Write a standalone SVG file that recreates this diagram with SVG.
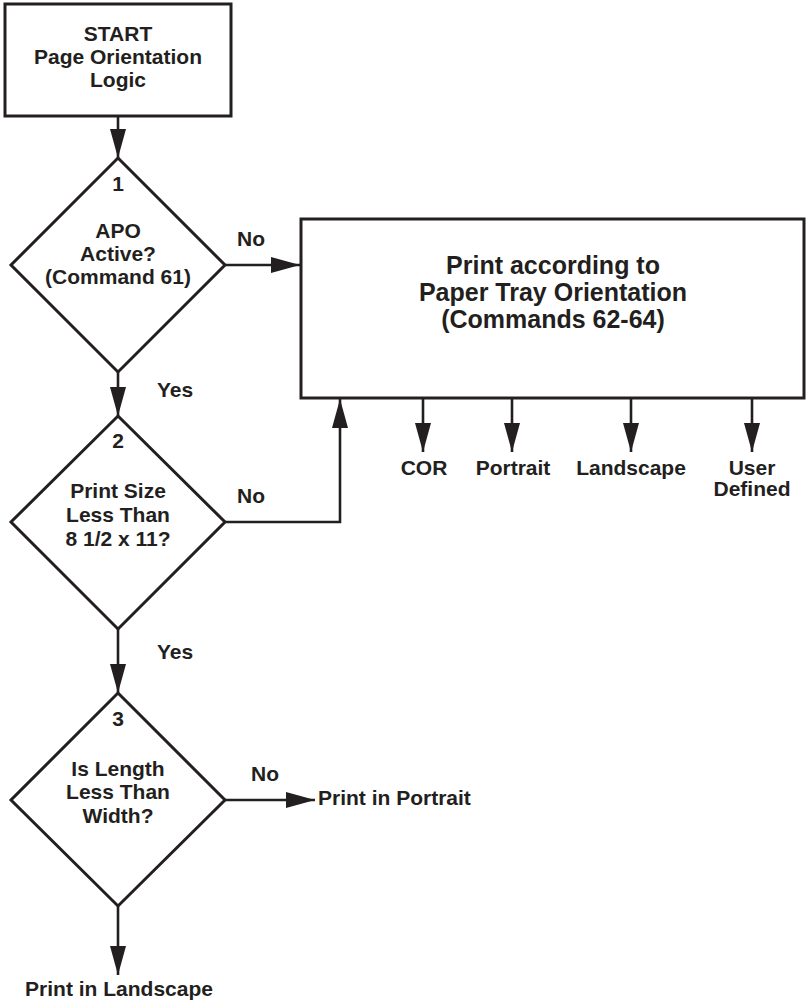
<svg xmlns="http://www.w3.org/2000/svg" width="807" height="1003" viewBox="0 0 807 1003">
<style>
.shape{fill:#fff;stroke:#231f20;stroke-width:3}
.conn{fill:none;stroke:#231f20;stroke-width:2.6}
text{font-family:"Liberation Sans",Arial,Helvetica,sans-serif;font-weight:bold;fill:#231f20;font-size:21px}
.c{text-anchor:middle}
.big{font-size:25px}
</style>
<defs>
<marker id="arr" markerUnits="userSpaceOnUse" markerWidth="30" markerHeight="16" refX="29" refY="8" orient="auto">
<path d="M0,0 L29,8 L0,16 z" fill="#231f20"/>
</marker>
</defs>
<rect width="807" height="1003" fill="#fff"/>
<g id="connectors">
<line class="conn" x1="118" y1="117" x2="118" y2="158" marker-end="url(#arr)"/>
<line class="conn" x1="225" y1="265" x2="300" y2="265" marker-end="url(#arr)"/>
<line class="conn" x1="118" y1="372" x2="118" y2="416" marker-end="url(#arr)"/>
<polyline class="conn" points="225,522 340,522 340,399" marker-end="url(#arr)"/>
<line class="conn" x1="118" y1="629" x2="118" y2="693" marker-end="url(#arr)"/>
<line class="conn" x1="225" y1="800" x2="315" y2="800" marker-end="url(#arr)"/>
<line class="conn" x1="118" y1="906" x2="118" y2="975" marker-end="url(#arr)"/>
<line class="conn" x1="423" y1="398" x2="423" y2="452" marker-end="url(#arr)"/>
<line class="conn" x1="512" y1="398" x2="512" y2="452" marker-end="url(#arr)"/>
<line class="conn" x1="631" y1="398" x2="631" y2="452" marker-end="url(#arr)"/>
<line class="conn" x1="752" y1="398" x2="752" y2="452" marker-end="url(#arr)"/>
<text x="237" y="246">No</text>
<text x="157" y="397">Yes</text>
<text x="237" y="503">No</text>
<text x="157" y="659">Yes</text>
<text x="251" y="781">No</text>
</g>
<g id="start">
<rect class="shape" x="5" y="4" width="226" height="112"/>
<text class="c" x="118" y="41">START</text>
<text class="c" x="118" y="64">Page Orientation</text>
<text class="c" x="118" y="87">Logic</text>
</g>
<g id="d1">
<polygon class="shape" points="118,158 225,265 118,372 11,265"/>
<text class="c" x="118" y="191">1</text>
<text class="c" x="118" y="238">APO</text>
<text class="c" x="118" y="261">Active?</text>
<text class="c" x="118" y="284">(Command 61)</text>
</g>
<g id="tray">
<rect class="shape" x="301" y="219" width="503" height="179"/>
<text class="c big" x="553" y="274">Print according to</text>
<text class="c big" x="553" y="301">Paper Tray Orientation</text>
<text class="c big" x="553" y="328">(Commands 62-64)</text>
</g>
<g id="out-cor"><text class="c" x="424" y="475">COR</text></g>
<g id="out-portrait"><text class="c" x="513" y="475">Portrait</text></g>
<g id="out-landscape"><text class="c" x="631" y="475">Landscape</text></g>
<g id="out-user"><text class="c" x="752" y="475">User</text><text class="c" x="752" y="496">Defined</text></g>
<g id="d2">
<polygon class="shape" points="118,416 225,522 118,629 11,522"/>
<text class="c" x="118" y="448">2</text>
<text class="c" x="118" y="498">Print Size</text>
<text class="c" x="118" y="522">Less Than</text>
<text class="c" x="118" y="546">8 1/2 x 11?</text>
</g>
<g id="d3">
<polygon class="shape" points="118,693 225,800 118,906 11,800"/>
<text class="c" x="118" y="726">3</text>
<text class="c" x="118" y="776">Is Length</text>
<text class="c" x="118" y="799">Less Than</text>
<text class="c" x="118" y="823">Width?</text>
</g>
<g id="portrait"><text x="318" y="805">Print in Portrait</text></g>
<g id="landscape"><text class="c" x="119" y="996">Print in Landscape</text></g>
</svg>
